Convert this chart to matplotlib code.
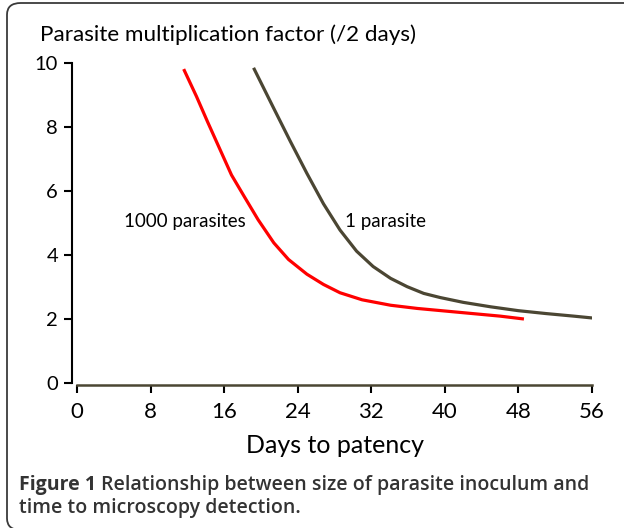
import matplotlib
matplotlib.use("Agg")
import matplotlib.pyplot as plt
from matplotlib.patches import FancyBboxPatch

# ── Data ─────────────────────────────────────────────────────────────────────
days_1000 = [11.6, 13.0, 14.2, 15.5, 16.8, 18.2, 19.7, 21.4, 23.0, 25.0,
             26.8, 28.6, 31.0, 34.1, 37.0, 40.0, 43.0, 46.0, 48.6]
pmf_1000 = [9.81, 8.95, 8.16, 7.33, 6.50, 5.82, 5.10, 4.38, 3.86, 3.40,
            3.08, 2.82, 2.60, 2.43, 2.33, 2.25, 2.17, 2.09, 2.00]

days_1 = [19.2, 21.4, 23.2, 25.0, 26.8, 28.6, 30.4, 32.2, 34.1, 35.9,
          37.7, 39.5, 42.0, 45.0, 48.0, 51.0, 54.0, 56.1]
pmf_1 = [9.85, 8.58, 7.55, 6.55, 5.60, 4.78, 4.12, 3.64, 3.27, 3.01,
         2.80, 2.67, 2.52, 2.38, 2.26, 2.17, 2.09, 2.03]

x_ticks = [0, 8, 16, 24, 32, 40, 48, 56]
y_ticks = [0, 2, 4, 6, 8, 10]

RED = "#ff0000"
OLIVE = "#4b4633"
CHART_FONT = ["Lato", "DejaVu Sans"]
CAPTION_FONT = ["Open Sans", "DejaVu Sans"]

W, H = 624, 528
fig = plt.figure(figsize=(W / 100, H / 100), dpi=100)

# axes placed in pixel terms: x 0..56 -> 77..592, y 0..10 -> 383..63
ax = fig.add_axes([77 / W, (H - 383) / H, 515 / W, 320 / H])
ax.plot(days_1000, pmf_1000, color=RED, lw=2.3, solid_capstyle="butt",
        solid_joinstyle="round")
ax.plot(days_1, pmf_1, color=OLIVE, lw=2.3, solid_capstyle="butt",
        solid_joinstyle="round")

ax.set_xlim(0, 56)
ax.set_ylim(0, 10)

# spines first: set_position rebuilds the ticks
for s in ["top", "right"]:
    ax.spines[s].set_visible(False)
ax.spines["left"].set_position(("outward", 3.6))
ax.spines["left"].set_linewidth(1.5)
ax.spines["left"].set_color("black")
ax.spines["bottom"].set_position(("outward", 1.5))
ax.spines["bottom"].set_linewidth(1.8)
ax.spines["bottom"].set_color(OLIVE)

ax.set_xticks(x_ticks)
ax.set_yticks(y_ticks)
ax.set_xticklabels([str(v) for v in x_ticks], fontsize=16, family=CHART_FONT)
ax.set_yticklabels([str(v) for v in y_ticks], fontsize=14.5, family=CHART_FONT)
ax.tick_params(axis="both", length=6, width=1.5, color="black")
ax.tick_params(axis="x", pad=6)
ax.tick_params(axis="y", pad=4)

ax.set_xlabel("Days to patency", fontsize=18, family=CHART_FONT, labelpad=9)
fig.text(40 / W, 1 - 35 / H, "Parasite multiplication factor (/2 days)",
         fontsize=16.2, family=CHART_FONT, va="center", ha="left")

ax.text(124 / W, 1 - 222 / H, "1000 parasites", transform=fig.transFigure,
        fontsize=13.5, family=CHART_FONT, va="center", ha="left")
ax.text(345 / W, 1 - 222 / H, "1 parasite", transform=fig.transFigure,
        fontsize=13.5, family=CHART_FONT, va="center", ha="left")

# caption: bold "Figure 1" followed by the rest of the sentence
cap_kw = dict(fontsize=14.0, family=CAPTION_FONT, color="#333333",
              va="center", ha="left")
fig_lbl = fig.text(19 / W, 1 - 485 / H, "Figure 1", fontweight="bold", **cap_kw)
fig.canvas.draw()
bb = fig_lbl.get_window_extent()
fig.text((bb.x1 + 5) / W, 1 - 485 / H,
         "Relationship between size of parasite inoculum and",
         fontweight="semibold", **cap_kw)
fig.text(19 / W, 1 - 508 / H, "time to microscopy detection.",
         fontweight="semibold", **cap_kw)

# rounded frame; right and bottom edges run off the image as in the original
frame = FancyBboxPatch((7 / W, -2 / H), 640 / W, 527 / H,
                       boxstyle="round,pad=0,rounding_size=0.022",
                       transform=fig.transFigure, fill=False,
                       edgecolor="#3a3a3a", lw=1.3, clip_on=False)
fig.patches.append(frame)

fig.savefig("out.png", dpi=100)
